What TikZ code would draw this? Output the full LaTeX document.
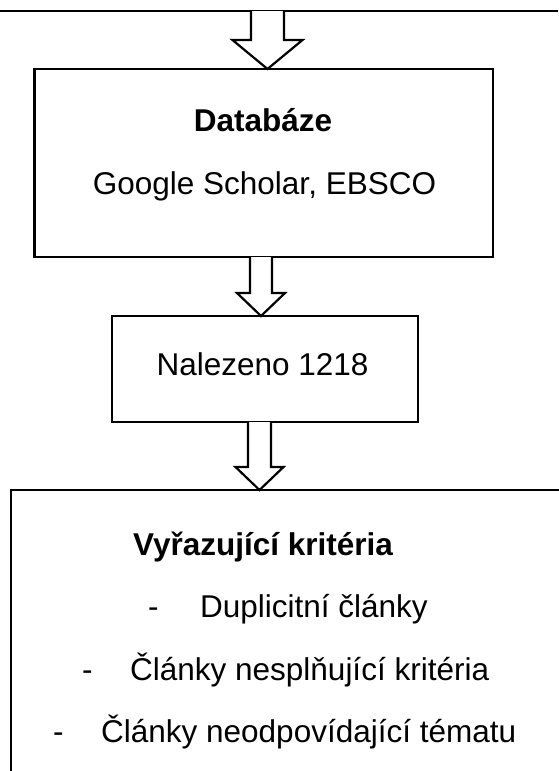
\documentclass[tikz,border=0pt]{standalone}
\usepackage{fontspec}
\setmainfont{Liberation Sans}
\usetikzlibrary{calc}
\tikzset{
  boxline/.style={draw=black, line width=2.6pt, line join=miter},
  arrowline/.style={draw=black, line width=2.2pt, line join=miter, fill=white},
  txt/.style={inner sep=0pt, anchor=base, font=\fontsize{31.5}{36}\selectfont},
  ltxt/.style={txt, anchor=base west},
}
\begin{document}
\begin{tikzpicture}[x=1pt,y=-1pt]
\useasboundingbox (0,0) rectangle (558,771);
% previous box bottom edge
\coordinate (prevL) at (0,11);
\coordinate (prevR) at (558,11);
\draw[boxline] (prevL) -- (prevR);
% Database box
\node[boxline, minimum width=458.5pt, minimum height=188pt, inner sep=0pt] (db) at (263.75,163) {};
\node[txt, font=\fontsize{31.5}{36}\selectfont\bfseries] (dbtitle) at (263,131) {Databáze};
\node[txt] (dbtext) at (264.5,194) {Google Scholar, EBSCO};
% Found box
\node[boxline, minimum width=306pt, minimum height=106pt, inner sep=0pt] (found) at (265,369) {};
\node[txt] (foundtext) at (262.5,375) {Nalezeno 1218};
% Exclusion box (open to right and bottom)
\coordinate (exBL) at (11,775);
\coordinate (exTL) at (11,490);
\coordinate (exTR) at (562,490);
\draw[boxline] (exBL) -- (exTL) -- (exTR);
\node[ltxt, font=\fontsize{31.5}{36}\selectfont\bfseries] (extitle) at (133,555) {Vyřazující kritéria};
\node[ltxt] (d1) at (148,617) {-};
\node[ltxt] (t1) at (200,617) {Duplicitní články};
\node[ltxt] (d2) at (82,680) {-};
\node[ltxt] (t2) at (130,680) {Články nesplňující kritéria};
\node[ltxt] (d3) at (53,742) {-};
\node[ltxt] (t3) at (101,742) {Články neodpovídající tématu};
% block arrows
\coordinate (a1s) at (267.5,11);  \coordinate (a1e) at (267.5,69);
\coordinate (a2s) at (261,257);   \coordinate (a2e) at (261,316);
\coordinate (a3s) at (259.5,422); \coordinate (a3e) at (259.5,490);
\draw[arrowline] ($(a1s)+(-16.5,0)$) -- ($(a1e)+(-16.5,-29)$) -- ($(a1e)+(-35,-29)$) -- (a1e) -- ($(a1e)+(35,-29)$) -- ($(a1e)+(16.5,-29)$) -- ($(a1s)+(16.5,0)$);
\draw[arrowline] ($(a2s)+(-11,0)$) -- ($(a2e)+(-11,-23)$) -- ($(a2e)+(-24,-23)$) -- (a2e) -- ($(a2e)+(24,-23)$) -- ($(a2e)+(11,-23)$) -- ($(a2s)+(11,0)$);
\draw[arrowline] ($(a3s)+(-11.5,0)$) -- ($(a3e)+(-11.5,-23)$) -- ($(a3e)+(-24,-23)$) -- (a3e) -- ($(a3e)+(24,-23)$) -- ($(a3e)+(11.5,-23)$) -- ($(a3s)+(11.5,0)$);
\end{tikzpicture}
\end{document}
